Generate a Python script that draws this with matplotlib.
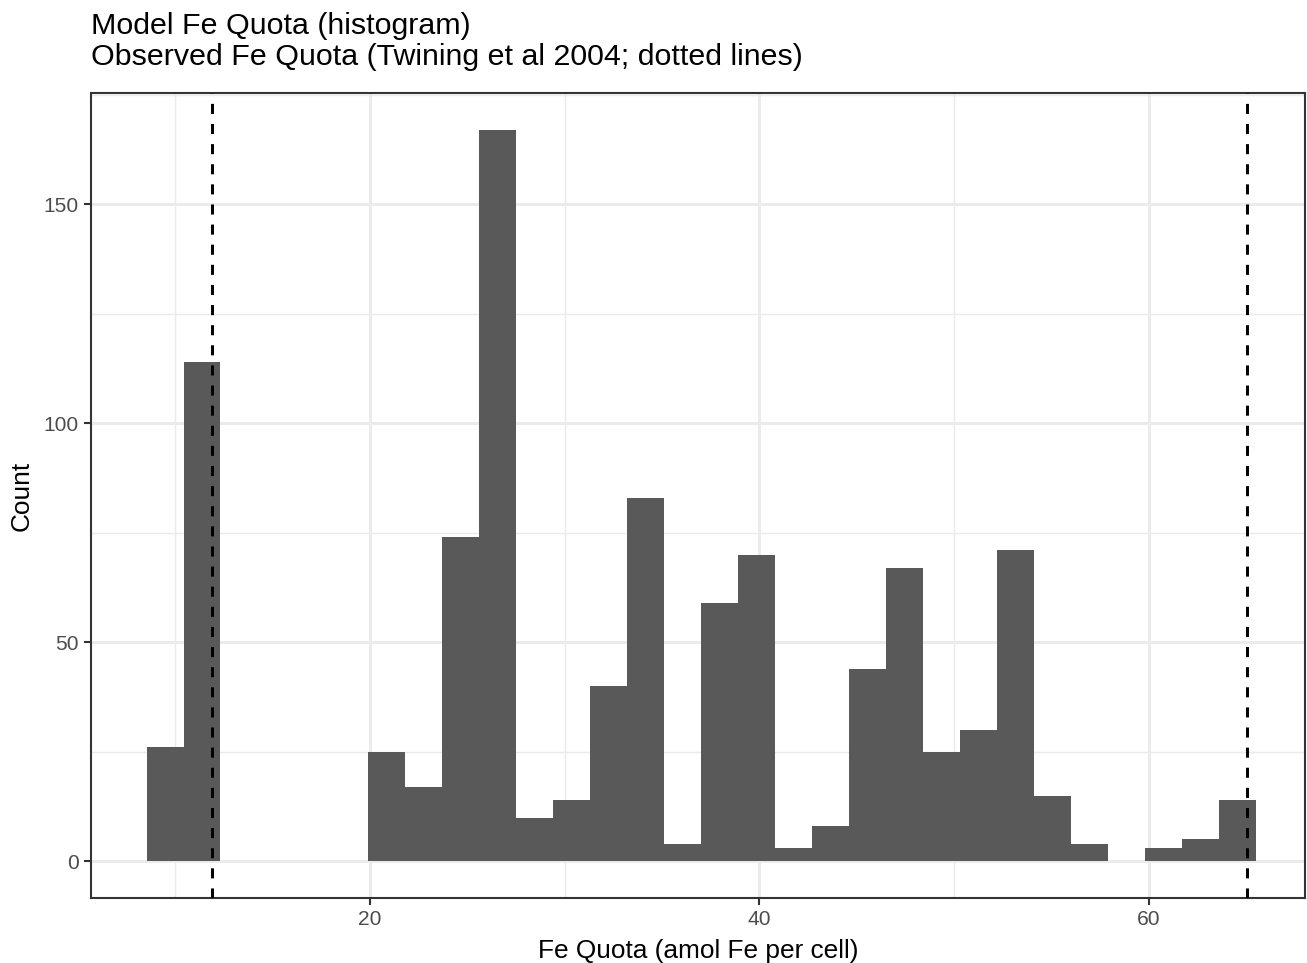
import matplotlib.pyplot as plt
import numpy as np

plt.rcParams['font.family'] = ['Liberation Sans', 'DejaVu Sans']

# model Fe quota histogram (30 bins) and observed quotas
bin_lo, bin_hi = 8.55, 65.47
counts = [26, 114, 0, 0, 0, 0, 25, 17, 74, 167, 10, 14, 40, 83, 4,
          59, 70, 3, 8, 44, 67, 25, 30, 71, 15, 4, 0, 3, 5, 14]
obs_quota = [11.9, 65.0]

edges = np.linspace(bin_lo, bin_hi, len(counts) + 1)
width = edges[1] - edges[0]

W, H = 1307, 963
fig = plt.figure(figsize=(W / 150, H / 150), dpi=150)
ax = fig.add_axes([91 / W, 1 - 898 / H, (1305 - 91) / W, (898 - 93) / H])

grid = '#EBEBEB'
for x in [10, 30, 50]:
    ax.axvline(x, color=grid, lw=0.71, zorder=0)
for y in [25, 75, 125, 175]:
    ax.axhline(y, color=grid, lw=0.71, zorder=0)
for x in [20, 40, 60]:
    ax.axvline(x, color=grid, lw=1.42, zorder=0)
for y in [0, 50, 100, 150]:
    ax.axhline(y, color=grid, lw=1.42, zorder=0)

ax.bar(edges[:-1], counts, width=width, align='edge', color='#595959',
       linewidth=0, zorder=2)
for q in obs_quota:
    ax.axvline(q, color='black', lw=1.42, linestyle=(0, (3.4, 3.4)), zorder=3)

ax.set_xlim(5.7, 68.0)
ax.set_ylim(-8.35, 175.35)
ax.set_xticks([20, 40, 60])
ax.set_yticks([0, 50, 100, 150])
ax.tick_params(length=3.4, width=1.0, color='#333333',
               labelcolor='#4D4D4D', labelsize=10.1, pad=2.5)
for s in ax.spines.values():
    s.set_color('#333333')
    s.set_linewidth(1.0)

fig.text((91 + 1305) / 2 / W, 1 - 958 / H, 'Fe Quota (amol Fe per cell)',
         fontsize=12.6, ha='center', va='baseline')
fig.text(22 / W, 1 - 496 / H, 'Count', fontsize=12.6, rotation=90,
         ha='center', va='center')

fig.text(91 / W, 1 - 34 / H, 'Model Fe Quota (histogram)',
         fontsize=14.6, va='baseline', ha='left')
fig.text(91 / W, 1 - 65 / H, 'Observed Fe Quota (Twining et al 2004; dotted lines)',
         fontsize=14.6, va='baseline', ha='left')

fig.savefig('out.png', dpi=150)
